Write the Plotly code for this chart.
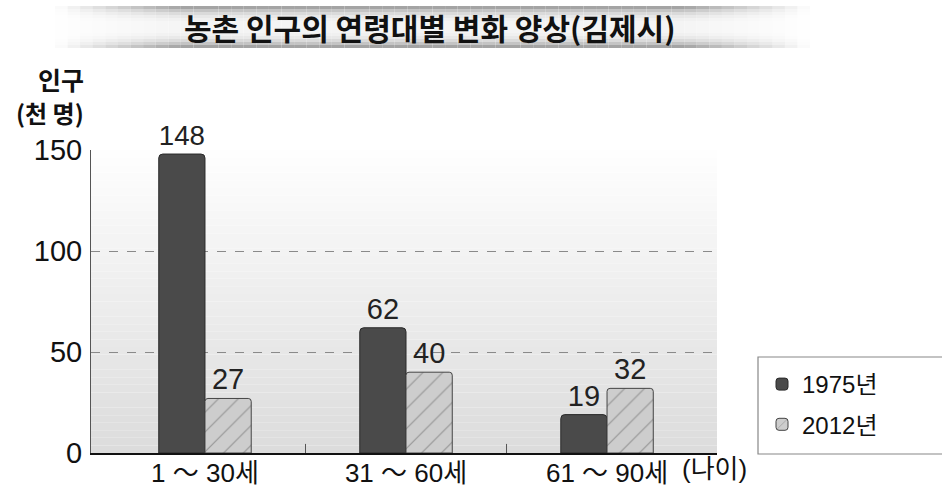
import plotly.graph_objects as go

categories = ["1 ～ 30세", "31 ～ 60세", "61 ～ 90세"]
series_names = ["1975년", "2012년"]
values_1975 = [148, 62, 19]
values_2012 = [27, 40, 32]
y_ticks = [0, 50, 100, 150]

W, H = 942, 489
L, R, T, B = 91, 225, 150, 36

NUM = "Liberation Sans, Arial, sans-serif"
KR = "Liberation Sans, Noto Sans CJK KR, sans-serif"

fig = go.Figure()
fig.add_trace(go.Bar(
    x=[0, 1, 2], y=values_1975, name=series_names[0], legendgroup="a",
    marker=dict(color="#4a4a4a", line=dict(color="#2a2a2a", width=1), cornerradius=4),
    text=[str(v) for v in values_1975], textposition="outside",
    textfont=dict(size=29, color="#222", family=NUM), cliponaxis=False,
))
fig.add_trace(go.Bar(
    x=[0, 1, 2], y=values_2012, name=series_names[1], legendgroup="b",
    marker=dict(color="#cdcdcd", line=dict(color="#444", width=1), cornerradius=3,
                pattern=dict(shape="/", fgcolor="#5a5a5a", size=14, solidity=0.08, fillmode="overlay")),
    text=[str(v) for v in values_2012], textposition="outside",
    textfont=dict(size=29, color="#222", family=NUM), cliponaxis=False,
))

shapes = []
n = 40
for i in range(n):
    f = (i + 0.5) / n
    g = int(220 + (255 - 220) * f)
    shapes.append(dict(type="rect", xref="paper", yref="paper", x0=0, x1=1,
                       y0=i / n, y1=(i + 1) / n, fillcolor=f"rgb({g},{g},{g})",
                       line=dict(width=0), layer="below"))

def px(x):
    return (x - L) / (W - L - R)

def py(y):
    return (H - B - y) / (H - T - B)

bx0, bx1 = 55, 810
by0, by1 = 6, 48
segs = 60
for i in range(segs):
    xa = bx0 + (bx1 - bx0) * i / segs
    xb = bx0 + (bx1 - bx0) * (i + 1) / segs
    c = (i + 0.5) / segs
    edge = min(c, 1 - c) * 2
    op = min(1.0, edge * 3)
    rows = 14
    for j in range(rows):
        ya = by0 + (by1 - by0) * j / rows
        yb = by0 + (by1 - by0) * (j + 1) / rows
        t = (j + 0.5) / rows
        d = abs(t - 0.5) * 2
        g = int(245 - 100 * d ** 3)
        shapes.append(dict(type="rect", xref="paper", yref="paper", x0=px(xa), x1=px(xb),
                           y0=py(yb), y1=py(ya), fillcolor=f"rgb({g},{g},{g})", opacity=op,
                           line=dict(width=0), layer="below"))

# legend frame
shapes.append(dict(type="rect", xref="paper", yref="paper", x0=px(758), x1=px(948),
                   y0=py(454), y1=py(357), fillcolor="white",
                   line=dict(color="#888", width=1.2), layer="below"))

for xb in [0.5, 1.5]:
    shapes.append(dict(type="line", xref="x", yref="paper", x0=xb, x1=xb,
                       y0=0, y1=0.03, line=dict(color="#555", width=1)))

annotations = [
    dict(text="<b>농촌 인구의 연령대별 변화 양상(김제시)</b>", xref="paper", yref="paper",
         x=px(430), y=py(27), showarrow=False, xanchor="center", yanchor="middle",
         font=dict(size=30, color="#111", family="Noto Sans CJK KR")),
    dict(text="<b>인구</b>", xref="paper", yref="paper", x=px(86), y=py(79),
         showarrow=False, xanchor="right", yanchor="middle",
         font=dict(size=25, color="#111", family="Noto Sans CJK KR")),
    dict(text="<b>(천 명)</b>", xref="paper", yref="paper", x=px(86), y=py(112),
         showarrow=False, xanchor="right", yanchor="middle",
         font=dict(size=24, color="#111", family="Noto Sans CJK KR")),
    dict(text="(나이)", xref="paper", yref="paper", x=px(680), y=py(469),
         showarrow=False, xanchor="left", yanchor="middle",
         font=dict(size=26, color="#111", family=KR)),
]

fig.update_layout(
    width=W, height=H,
    margin=dict(l=L, r=R, t=T, b=B, pad=0, autoexpand=False),
    paper_bgcolor="white", plot_bgcolor="rgba(0,0,0,0)",
    barmode="group", bargap=0.54, bargroupgap=0.0,
    showlegend=True,
    legend=dict(x=px(762), y=py(362), xanchor="left", yanchor="top",
                bgcolor="rgba(0,0,0,0)", borderwidth=0,
                font=dict(size=24, color="#111", family=KR),
                itemwidth=30, tracegroupgap=6),
    shapes=shapes, annotations=annotations,
    xaxis=dict(range=[-0.567, 2.547], tickvals=[0, 1, 2], ticktext=categories,
               showgrid=False, zeroline=False, showline=True, linecolor="#111", linewidth=2,
               ticks="", tickfont=dict(size=26, color="#111", family=KR), fixedrange=True,
               automargin=False, ticklabelstandoff=-4),
    yaxis=dict(range=[0, 150], tickvals=y_ticks, showgrid=True, gridcolor="#8a8a8a",
               griddash="dash", gridwidth=1, zeroline=False, showline=True,
               linecolor="#555", linewidth=1, ticks="", ticklabelstandoff=2,
               tickfont=dict(size=29, color="#111", family=NUM), fixedrange=True,
               automargin=False),
)

fig.write_html("out.html", config={"displayModeBar": False},
               post_script="document.body.style.margin='0px';document.body.style.overflow='hidden';")
